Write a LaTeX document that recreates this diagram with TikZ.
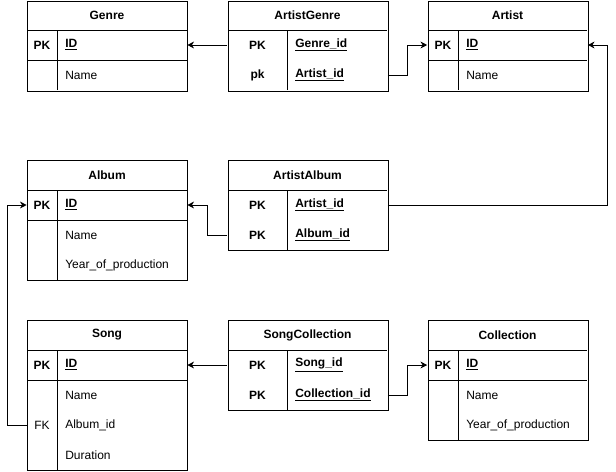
\documentclass[tikz,border=0pt]{standalone}
\usepackage{fontspec}
\setmainfont{Liberation Sans}
\usetikzlibrary{arrows.meta}
\tikzset{
  tbl/.style={draw, line width=0.75pt, minimum width=120pt, inner sep=0pt, anchor=north west},
  rowbox/.style={minimum width=120pt, minimum height=22.5pt, inner sep=0pt},
  title/.style={font=\fontsize{9pt}{10pt}\selectfont\bfseries, inner sep=0pt},
  keyb/.style={font=\fontsize{9pt}{10pt}\selectfont\bfseries, inner sep=0pt},
  keyn/.style={font=\fontsize{9pt}{10pt}\selectfont, inner sep=0pt},
  fld/.style={font=\fontsize{9pt}{10pt}\selectfont, inner sep=0pt, anchor=west},
  fldb/.style={font=\fontsize{9pt}{10pt}\selectfont\bfseries, inner sep=0pt, anchor=west},
  sep/.style={line width=0.75pt},
  conn/.style={line width=0.75pt, -{Stealth[length=5pt,width=5pt,inset=1.5pt]}}
}
\begin{document}
\begin{tikzpicture}[x=0.75pt,y=-0.75pt]
\useasboundingbox (0,0) rectangle (616,471);
\fill[white] (0,0) rectangle (616,471);

% ---------- Genre ----------
\node[tbl, minimum height=67.5pt] (genre) at (27,1) {};
\draw[sep] (27,30) -- (187,30);
\draw[sep] (27,60) -- (187,60);
\draw[sep] (57,30) -- (57,90);
\node[title] (genre-t) at (107,15.5) {Genre};
\node[rowbox] (genre-id) at (107,45) {};
\node[rowbox] (genre-name) at (107,75) {};
\node[keyb] (genre-k1) at (42,45) {PK};
\node[fldb] (genre-f1) at (65,45) {\underline{ID}};
\node[fld] (genre-f2) at (65,75) {Name};

% ---------- ArtistGenre ----------
\node[tbl, minimum height=67.5pt] (ag) at (228,1) {};
\draw[sep] (228,30) -- (387,30);
\draw[sep] (287,30) -- (287,90);
\node[title] (ag-t) at (307.5,15.5) {ArtistGenre};
\node[rowbox] (ag-genre) at (307.5,45) {};
\node[rowbox] (ag-artist) at (307.5,75) {};
\node[keyb] (ag-k1) at (257.5,45) {PK};
\node[keyb] (ag-k2) at (257.5,75) {pk};
\node[fldb] (ag-f1) at (295,45) {\underline{Genre\_id}};
\node[fldb] (ag-f2) at (295,75) {\underline{Artist\_id}};

% ---------- Artist ----------
\node[tbl, minimum height=67.5pt] (artist) at (428,1) {};
\draw[sep] (428,30) -- (587,30);
\draw[sep] (428,60) -- (587,60);
\draw[sep] (458,30) -- (458,90);
\node[title] (artist-t) at (507.5,15.5) {Artist};
\node[rowbox] (artist-id) at (507.5,45) {};
\node[rowbox] (artist-name) at (507.5,75) {};
\node[keyb] (artist-k1) at (443,45) {PK};
\node[fldb] (artist-f1) at (466,45) {\underline{ID}};
\node[fld] (artist-f2) at (466,75) {Name};

% ---------- Album ----------
\node[tbl, minimum height=90pt] (album) at (27,160) {};
\draw[sep] (27,190) -- (187,190);
\draw[sep] (27,220) -- (187,220);
\draw[sep] (57,190) -- (57,280);
\node[title] (album-t) at (107,175) {Album};
\node[rowbox] (album-id) at (107,205) {};
\node[keyb] (album-k1) at (42,205) {PK};
\node[fldb] (album-f1) at (65,205) {\underline{ID}};
\node[fld] (album-f2) at (65,235) {Name};
\node[fld] (album-f3) at (65,265) {Year\_of\_production};

% ---------- ArtistAlbum ----------
\node[tbl, minimum height=67.5pt] (aa) at (228,160) {};
\draw[sep] (228,190) -- (387,190);
\draw[sep] (287,190) -- (287,250);
\node[title] (aa-t) at (307.5,175) {ArtistAlbum};
\node[rowbox] (aa-artist) at (307.5,205) {};
\node[rowbox] (aa-album) at (307.5,235) {};
\node[keyb] (aa-k1) at (257.5,205) {PK};
\node[keyb] (aa-k2) at (257.5,235) {PK};
\node[fldb] (aa-f1) at (295,205) {\underline{Artist\_id}};
\node[fldb] (aa-f2) at (295,235) {\underline{Album\_id}};

% ---------- Song ----------
\node[tbl, minimum height=112.5pt] (song) at (27,320) {};
\draw[sep] (27,350) -- (187,350);
\draw[sep] (27,380) -- (187,380);
\draw[sep] (57,350) -- (57,470);
\node[title] (song-t) at (107,335) {Song};
\node[rowbox] (song-id) at (107,365) {};
\node[rowbox] (song-album) at (107,425) {};
\node[keyb] (song-k1) at (42,365) {PK};
\node[keyn] (song-k2) at (42,425) {FK};
\node[fldb] (song-f1) at (65,365) {\underline{ID}};
\node[fld] (song-f2) at (65,395) {Name};
\node[fld] (song-f3) at (65,425) {Album\_id};
\node[fld] (song-f4) at (65,455) {Duration};

% ---------- SongCollection ----------
\node[tbl, minimum height=67.5pt] (sc) at (228,320) {};
\draw[sep] (228,350) -- (387,350);
\draw[sep] (287,350) -- (287,410);
\node[title] (sc-t) at (307.5,335) {SongCollection};
\node[rowbox] (sc-song) at (307.5,365) {};
\node[rowbox] (sc-coll) at (307.5,395) {};
\node[keyb] (sc-k1) at (257.5,365) {PK};
\node[keyb] (sc-k2) at (257.5,395) {PK};
\node[fldb] (sc-f1) at (295,365) {\underline{Song\_id}};
\node[fldb] (sc-f2) at (295,395) {\underline{Collection\_id}};

% ---------- Collection ----------
\node[tbl, minimum height=90pt] (coll) at (428,320) {};
\draw[sep] (428,350) -- (587,350);
\draw[sep] (428,380) -- (587,380);
\draw[sep] (458,350) -- (458,440);
\node[title] (coll-t) at (507.5,335) {Collection};
\node[rowbox] (coll-id) at (507.5,365) {};
\node[keyb] (coll-k1) at (443,365) {PK};
\node[fldb] (coll-f1) at (466,365) {\underline{ID}};
\node[fld] (coll-f2) at (466,395) {Name};
\node[fld] (coll-f3) at (466,425) {Year\_of\_production};

% ---------- connectors ----------
\draw[conn] (ag-genre.west) -- (genre-id.east);
\draw[conn] (ag-artist.east) -- ++(20,0) |- (artist-id.west);
\draw[conn] (aa-artist.east) -- (607,205) |- (artist-id.east);
\draw[conn] (aa-album.west) -- ++(-20,0) |- (album-id.east);
\draw[conn] (song-album.west) -- (7,425) |- (album-id.west);
\draw[conn] (sc-song.west) -- (song-id.east);
\draw[conn] (sc-coll.east) -- ++(20,0) |- (coll-id.west);
\end{tikzpicture}
\end{document}
